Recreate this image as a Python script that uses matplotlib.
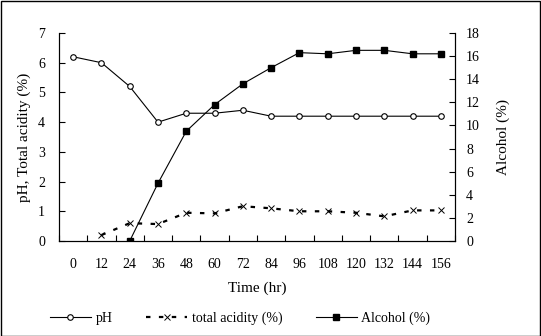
import matplotlib
matplotlib.use("Agg")
import matplotlib.pyplot as plt
from matplotlib.patches import Rectangle
import numpy as np

plt.rcParams['font.family'] = ['Liberation Serif', 'DejaVu Serif']

time_labels = ["0", "12", "24", "36", "48", "60", "72", "84", "96", "108", "120", "132", "144", "156"]
ph = [6.2, 6.0, 5.2, 4.0, 4.3, 4.3, 4.4, 4.2, 4.2, 4.2, 4.2, 4.2, 4.2, 4.2]
total_acidity = [np.nan, 0.2, 0.6, 0.57, 0.95, 0.93, 1.17, 1.1, 1.0, 1.0, 0.95, 0.83, 1.03, 1.03]
alcohol = [np.nan, np.nan, 0.0, 5.0, 9.5, 11.8, 13.6, 15.0, 16.3, 16.2, 16.5, 16.5, 16.2, 16.2]

W, H = 541, 336
fig = plt.figure(figsize=(W / 100, H / 100), dpi=100)
ax = fig.add_axes([59 / W, (H - 241) / H, 396 / W, 208 / H])
ax2 = ax.twinx()

x = np.arange(len(time_labels))
l1, = ax.plot(x, ph, color='black', lw=0.8, marker='o', ms=4, mfc='white', mec='black', mew=0.8, label='pH')
l2, = ax.plot(x, total_acidity, color='black', lw=1.6, ls=(0, (2.0, 3.8)), marker='x', ms=4, mew=0.7,
              label='total acidity (%)')
l3, = ax2.plot(x, alcohol, color='black', lw=0.8, marker='s', ms=4.3, mfc='black', mec='black', label='Alcohol (%)')

ax.set_xlim(-0.5, len(time_labels) - 0.5)
ax.set_ylim(0, 7)
ax2.set_ylim(0, 18)
ax.set_yticks(range(0, 8))
ax2.set_yticks(range(0, 19, 2))
ax.set_xticks(x)
ax.set_xticklabels(time_labels)
ax.set_xticks(np.arange(-0.5, len(time_labels), 1), minor=True)
ax.tick_params(axis='x', which='major', length=0, pad=12, labelsize=10)
ax.tick_params(axis='x', which='minor', direction='in', length=4, width=0.8)
ax.tick_params(axis='y', direction='in', length=4, width=0.8, labelsize=10, pad=10)
ax2.tick_params(axis='y', direction='in', length=4, width=0.8, labelsize=10, pad=8)

for a in (ax, ax2):
    a.spines['top'].set_visible(False)
    for s in ('left', 'right', 'bottom'):
        a.spines[s].set_linewidth(0.8)
ax.set_xlabel('Time (hr)', fontsize=11, labelpad=8)
ax.set_ylabel('pH, Total acidity (%)', fontsize=11, labelpad=5)
ax2.set_ylabel('Alcohol (%)', fontsize=11, labelpad=12)

fig.legend(handles=[l1, l2, l3], loc='center', bbox_to_anchor=(240 / W, (H - 318) / H),
           ncol=3, frameon=False, fontsize=10, handlelength=3, handletextpad=0.3,
           columnspacing=2.4)

fig.add_artist(Rectangle((0.5 / W, 0.5 / H), (W - 1.5) / W, (H - 1.5) / H, transform=fig.transFigure,
                         fill=False, ec='black', lw=1.0))

fig.savefig('out.png', dpi=100)
